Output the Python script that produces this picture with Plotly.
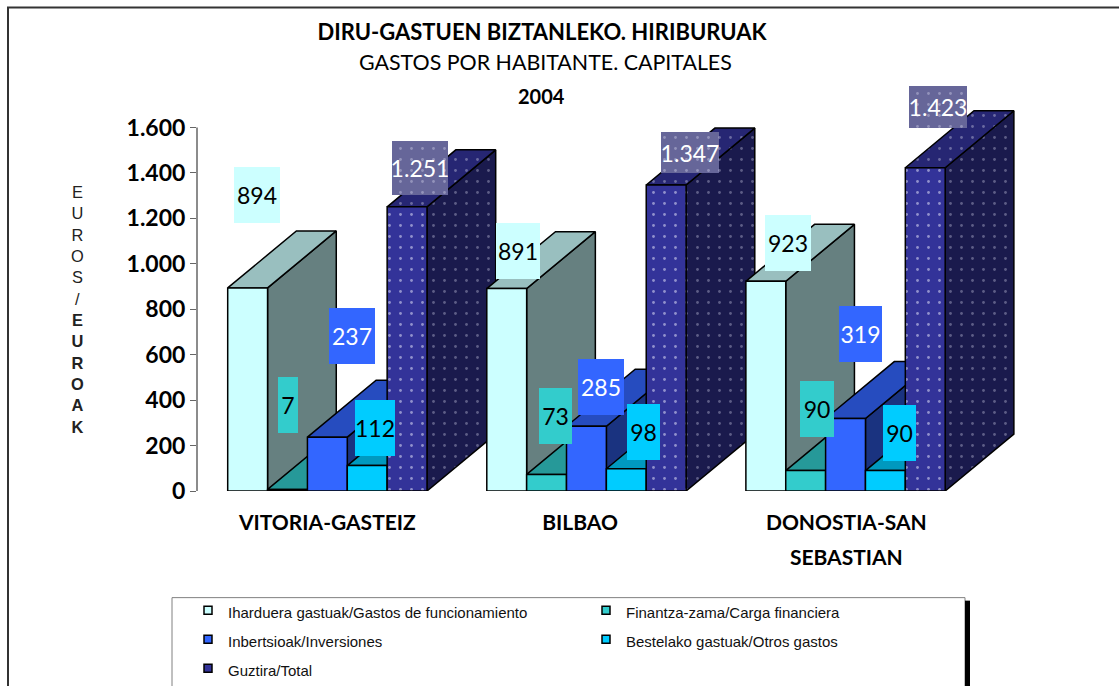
import plotly.graph_objects as go

# ---------- data ----------
categories = ["VITORIA-GASTEIZ", "BILBAO", "DONOSTIA-SAN<br>SEBASTIAN"]
series_names = [
    "Iharduera gastuak/Gastos de funcionamiento",
    "Finantza-zama/Carga financiera",
    "Inbertsioak/Inversiones",
    "Bestelako gastuak/Otros gastos",
    "Guztira/Total",
]
funcionamiento = [894, 891, 923]
carga = [7, 73, 90]
inversiones = [237, 285, 319]
otros = [112, 98, 90]
total = [1251, 1347, 1423]
y_ticks = [0, 200, 400, 600, 800, 1000, 1200, 1400, 1600]
y_tick_text = ["0", "200", "400", "600", "800", "1.000", "1.200", "1.400", "1.600"]
value_text = [
    ["894", "891", "923"],
    ["7", "73", "90"],
    ["237", "285", "319"],
    ["112", "98", "90"],
    ["1.251", "1.347", "1.423"],
]
series = [funcionamiento, carga, inversiones, otros, total]

# ---------- geometry / style ----------
W, H = 1119, 686
AX_L = 197.0
BASE = 491.3
X0 = 227.7
BAR_PX = 39.86
PX_PER_UNIT = 0.2273
GROUP_STEP = 6.5
DEPTH_X = 68.7 / BAR_PX
DEPTH_Y = 57.0 / PX_PER_UNIT
tick_x = [2.5, 8.84, 15.52]

front = ["#CCFFFF", "#33CCCC", "#3366FF", "#00CCFF", "#333399"]
top_c = ["#99BFBF", "#269999", "#264CBF", "#0099BF", "#262673"]
side_c = ["#668080", "#1A6666", "#1A3380", "#006680", "#1A1A4D"]
dot_front = "#F0F0FF"
dot_top = "#B0B0D0"
dot_side = "#A0A0C0"

label_boxes = [  # x0, x1, y0, y1 in page pixels
    [(234, 280, 167, 223), (496, 540, 223, 279), (765, 811, 215, 271)],
    [(278, 298, 377, 433), (539, 572, 388, 444), (800, 834, 381, 437)],
    [(329, 375, 308, 364), (578, 624, 359, 415), (839, 882, 306, 362)],
    [(355, 395, 400, 456), (627, 660, 404, 460), (883, 916, 405, 461)],
    [(392, 448, 141, 195), (661, 719, 132, 173), (909, 967, 86, 128)],
]
label_bg = ["#CCFFFF", "#33CCCC", "#3366FF", "#00CCFF", "#666699"]
label_fg = ["black", "black", "white", "black", "white"]

LABEL_FONT = "Comic Sans MS, Lato, sans-serif"


def X(px):
    return (px - X0) / BAR_PX


def Y(py):
    return (BASE - py) / PX_PER_UNIT


def PX(px):
    return (px - AX_L) / (W - AX_L)


def PY(py):
    return 1 - py / BASE


def poly(xs, ys, color, dot=None, lw=1.5):
    kw = dict(
        x=xs + xs[:1], y=ys + ys[:1], mode="lines", fill="toself",
        fillcolor=color, line=dict(color="black", width=lw),
        showlegend=False, hoverinfo="skip",
    )
    if dot:
        kw["fillpattern"] = dict(shape=".", bgcolor=color, fgcolor=dot,
                                 size=11, solidity=0.05, fillmode="overlay")
    return go.Scatter(**kw)


fig = go.Figure()

for g in range(len(categories)):
    for s, vals in enumerate(series):
        v = vals[g]
        x0 = g * GROUP_STEP + s
        x1 = x0 + 1
        dotted = s == 4
        fig.add_trace(poly([x1, x1, x1 + DEPTH_X, x1 + DEPTH_X], [0, v, v + DEPTH_Y, DEPTH_Y],
                           side_c[s], dot_side if dotted else None))
        fig.add_trace(poly([x0, x1, x1 + DEPTH_X, x0 + DEPTH_X], [v, v, v + DEPTH_Y, v + DEPTH_Y],
                           top_c[s], dot_top if dotted else None))
        fig.add_trace(poly([x0, x1, x1, x0], [0, 0, v, v],
                           front[s], dot_front if dotted else None))

# legend entries
for s, name in enumerate(series_names):
    fig.add_trace(go.Scatter(
        x=[None], y=[None], mode="markers",
        name='<span style="font-size:15px">' + name + "</span>",
        marker=dict(symbol="square", size=8, color=front[s], line=dict(color="black", width=1.5)),
    ))

annotations = []
for s, row in enumerate(label_boxes):
    for g, (a, b, c, d) in enumerate(row):
        if s == 4:
            fig.add_trace(go.Scatter(
                x=[X(a), X(b), X(b), X(a), X(a)], y=[Y(c), Y(c), Y(d), Y(d), Y(c)],
                mode="lines", fill="toself", fillcolor=label_bg[s], line=dict(width=0),
                fillpattern=dict(shape=".", bgcolor=label_bg[s], fgcolor="#C0C0DC",
                                 size=11, solidity=0.05, fillmode="overlay"),
                showlegend=False, hoverinfo="skip",
            ))
        annotations.append(dict(
            x=X((a + b) / 2), y=Y((c + d) / 2), xref="x", yref="y", showarrow=False,
            xanchor="center", yanchor="middle",
            text=value_text[s][g], width=b - a, height=d - c, align="center", valign="middle",
            bgcolor=None if s == 4 else label_bg[s], borderpad=0, borderwidth=0,
            font=dict(family=LABEL_FONT, size=23, color=label_fg[s]),
        ))

# titles
annotations += [
    dict(x=PX(545), y=PY(62), xref="paper", yref="paper", showarrow=False,
         xanchor="center", yanchor="middle",
         text="GASTOS POR HABITANTE. CAPITALES",
         font=dict(family=LABEL_FONT, size=21.4, color="black")),
    dict(x=PX(541), y=PY(96), xref="paper", yref="paper", showarrow=False,
         xanchor="center", yanchor="middle",
         text="<b>2004</b>", font=dict(family=LABEL_FONT, size=20, color="black")),
    dict(x=PX(78), y=PY(309.5), xref="paper", yref="paper", showarrow=False, align="center",
         xanchor="center", yanchor="middle",
         text="<br>".join(list("EUROS/")) + "<br><b>" + "<br>".join(list("EUROAK")) + "</b>",
         font=dict(family="Liberation Sans, Arial, sans-serif", size=16.4, color="#222222")),
]

shapes = [
    dict(type="rect", xref="paper", yref="paper", x0=PX(8), x1=PX(1130), y0=PY(7.5), y1=PY(700),
         line=dict(color="#333333", width=2), layer="below"),
    dict(type="line", xref="x domain", yref="y", x0=0, x1=0, y0=0, y1=1600,
         line=dict(color="#666666", width=1.5), layer="below"),
    dict(type="rect", xref="paper", yref="paper", x0=PX(172), x1=PX(965), y0=PY(598), y1=PY(700),
         line=dict(color="#808080", width=1), fillcolor="white", layer="below"),
    dict(type="rect", xref="paper", yref="paper", x0=PX(965), x1=PX(970), y0=PY(601), y1=PY(700),
         line=dict(width=0), fillcolor="black", layer="below"),
]

fig.update_layout(
    width=W, height=H,
    margin=dict(l=AX_L, r=0, t=0, b=H - BASE, pad=0, autoexpand=False),
    paper_bgcolor="white", plot_bgcolor="rgba(0,0,0,0)",
    title=dict(text="<b>DIRU-GASTUEN BIZTANLEKO. HIRIBURUAK</b>", x=542 / W, y=1 - 32 / H,
               xanchor="center", yanchor="middle", xref="container", yref="container",
               font=dict(family=LABEL_FONT, size=22, color="black")),
    xaxis=dict(range=[X(AX_L), X(W)], showgrid=False, zeroline=False, showline=False,
               ticks="", tickmode="array", tickvals=tick_x,
               ticktext=['<span style="font-size:21px"><b>' + c.replace("<br>", '</b></span><br><span style="font-size:21px"><b>') + "</b></span>" for c in categories],
               tickfont=dict(family=LABEL_FONT, size=27, color="black"), ticklabelstandoff=11),
    yaxis=dict(range=[0, BASE / PX_PER_UNIT], showgrid=False, zeroline=False, showline=False,
               tickmode="array", tickvals=y_ticks, ticktext=y_tick_text, ticks="outside",
               ticklen=6, tickcolor="#666666", tickwidth=1,
               tickfont=dict(family=LABEL_FONT, size=23, color="black", weight="bold")),
    legend=dict(orientation="h", xref="paper", yref="paper", x=PX(188), y=PY(591), xanchor="left", yanchor="top",
                entrywidth=353, entrywidthmode="pixels", bgcolor="rgba(0,0,0,0)", borderwidth=0,
                font=dict(family="Liberation Sans, Arial, sans-serif", size=20, color="#111111")),
    annotations=annotations, shapes=shapes,
)

fig.write_html("out.html", config={"displayModeBar": False},
               post_script="document.body.style.margin='0';")
